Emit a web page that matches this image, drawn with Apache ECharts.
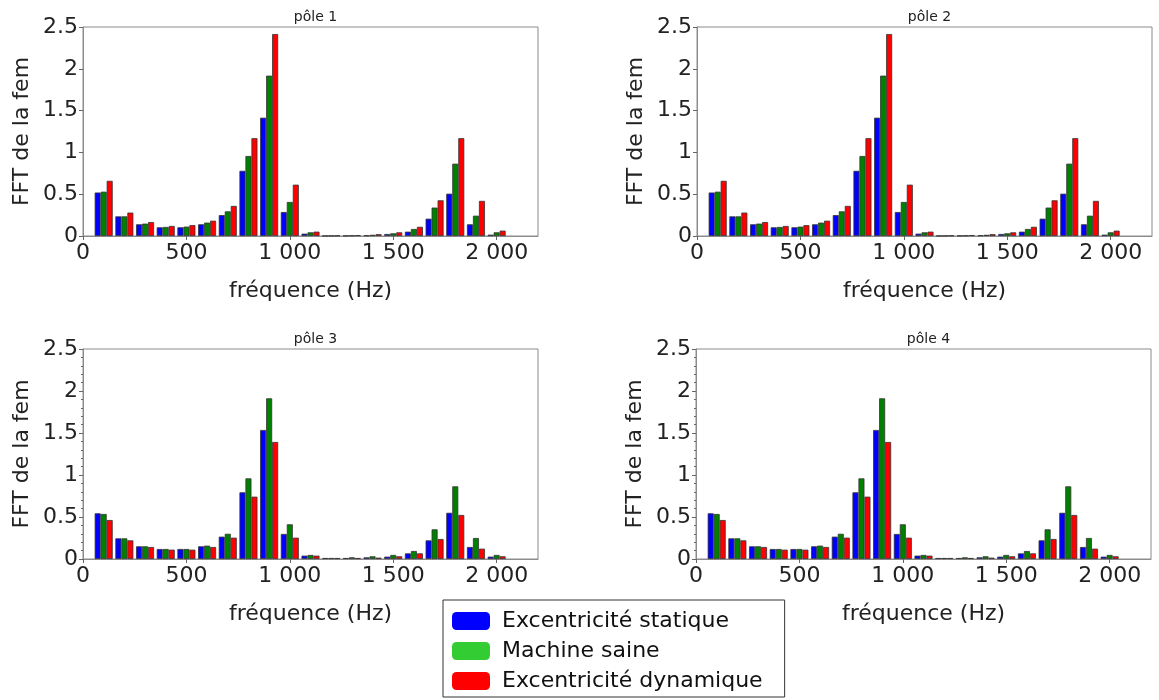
<!DOCTYPE html>
<html>
<head>
<meta charset="utf-8">
<script src="https://cdn.jsdelivr.net/npm/echarts@6/dist/echarts.min.js"></script>
<style>
html,body{margin:0;padding:0;background:#fff;}
#chart{width:1159px;height:700px;}
</style>
</head>
<body>
<div id="chart"></div>
<script>
// ---- data ----
const frequencies = [100,200,300,400,500,600,700,800,900,1000,1100,1200,1300,1400,1500,1600,1700,1800,1900,2000];
const seriesNames = ['Excentricité statique','Machine saine','Excentricité dynamique'];
const poleTitles = ['pôle 1','pôle 2','pôle 3','pôle 4'];
const yTicks = [0,0.5,1,1.5,2,2.5];
const xTicks = [0,500,1000,1500,2000];

// pôle 1 & pôle 2 (identical in the picture)
const statique12  = [0.52,0.235,0.14,0.104,0.104,0.14,0.25,0.78,1.415,0.287,0.028,0.002,0.004,0.008,0.024,0.052,0.207,0.506,0.14,0.016];
const saine12     = [0.53,0.235,0.148,0.108,0.112,0.16,0.295,0.957,1.918,0.407,0.044,0.003,0.006,0.014,0.032,0.084,0.34,0.865,0.243,0.044];
const dynamique12 = [0.66,0.28,0.167,0.12,0.13,0.183,0.36,1.17,2.416,0.614,0.052,0.005,0.01,0.022,0.044,0.11,0.427,1.17,0.42,0.064];
// pôle 3 & pôle 4
const statique34  = [0.544,0.246,0.151,0.119,0.119,0.151,0.266,0.794,1.536,0.298,0.04,0.012,0.012,0.02,0.028,0.067,0.222,0.55,0.143,0.028];
const saine34     = [0.536,0.246,0.151,0.119,0.119,0.159,0.30,0.96,1.913,0.413,0.048,0.012,0.02,0.032,0.048,0.095,0.353,0.865,0.25,0.048];
const dynamique34 = [0.464,0.222,0.143,0.111,0.111,0.143,0.254,0.742,1.393,0.254,0.04,0.012,0.012,0.016,0.032,0.067,0.238,0.524,0.123,0.032];

const poles = [
  [statique12, saine12, dynamique12],
  [statique12, saine12, dynamique12],
  [statique34, saine34, dynamique34],
  [statique34, saine34, dynamique34]
];

// ---- style ----
const barColors = ['#0000ff','#008000','#ff0000'];
const legendColors = ['#0000ff','#33cc33','#ff0000'];
const FONT = 'DejaVu Sans';
const gridPos = [
  {left:83, top:27, width:455, height:209},
  {left:697, top:27, width:455, height:209},
  {left:83, top:349, width:455, height:210},
  {left:696, top:349, width:455, height:210}
];

function fmtThousands(v){
  return String(v).replace(/\B(?=(\d{3})+(?!\d))/g,' ');
}

const grids = [], xAxes = [], yAxes = [], titles = [], series = [];
gridPos.forEach((g,i)=>{
  grids.push(Object.assign({show:true, borderColor:'#8c8c8c', borderWidth:1, backgroundColor:'#fff'}, g));
  titles.push({
    text: poleTitles[i],
    left: g.left + g.width/2,
    top: g.top - 22,
    textAlign: 'center',
    textStyle:{fontFamily:FONT, fontSize:14, fontWeight:'normal', color:'#222'}
  });
  xAxes.push({
    type:'value', gridIndex:i, min:0, max:2200, interval:500,
    name:'fréquence (Hz)', nameLocation:'middle', nameGap:44,
    nameTextStyle:{fontFamily:FONT, fontSize:22, color:'#222'},
    axisLine:{show:true, onZero:false, lineStyle:{color:'#8c8c8c', width:1}},
    axisTick:{show:true, length:4, lineStyle:{color:'#666'}},
    axisLabel:{fontFamily:FONT, fontSize:22, color:'#222', margin:6, showMaxLabel:false,
      formatter: v => xTicks.indexOf(v) >= 0 ? fmtThousands(v) : ''},
    splitLine:{show:false}
  });
  yAxes.push({
    type:'value', gridIndex:i, min:yTicks[0], max:yTicks[yTicks.length-1], interval:0.5,
    name:'FFT de la fem', nameLocation:'middle', nameGap:50, nameRotate:90,
    nameTextStyle:{fontFamily:FONT, fontSize:22, color:'#222'},
    axisLine:{show:true, lineStyle:{color:'#8c8c8c', width:1}},
    axisTick:{show:true, length:4, lineStyle:{color:'#666'}},
    minorTick:{show: i >= 2, splitNumber:5, length:2, lineStyle:{color:'#666'}},
    axisLabel:{fontFamily:FONT, fontSize:22, color:'#222', margin:5},
    splitLine:{show:false}
  });
  poles[i].forEach((vals,s)=>{
    series.push({
      name: seriesNames[s],
      type:'bar',
      xAxisIndex:i, yAxisIndex:i,
      barWidth:6, barGap:'0%',
      itemStyle:{color:barColors[s], borderColor:'#333', borderWidth:0.8},
      emphasis:{disabled:true},
      data: frequencies.map((f,k)=>[f, vals[k]])
    });
  });
});

const chart = echarts.init(document.getElementById('chart'), null, {renderer:'canvas'});
chart.setOption({
  animation:false,
  backgroundColor:'#fff',
  title: titles,
  grid: grids,
  xAxis: xAxes,
  yAxis: yAxes,
  legend:{
    orient:'vertical',
    left:443, top:600,
    padding:[10,22,5,9],
    itemWidth:38, itemHeight:18, itemGap:8,
    icon:'roundRect',
    borderColor:'#333', borderWidth:1, backgroundColor:'#fff',
    textStyle:{fontFamily:FONT, fontSize:22, color:'#111', padding:[0,0,0,7]},
    data: seriesNames.map((n,k)=>({name:n, itemStyle:{color:legendColors[k], borderWidth:0}}))
  },
  series: series
});
</script>
</body>
</html>
